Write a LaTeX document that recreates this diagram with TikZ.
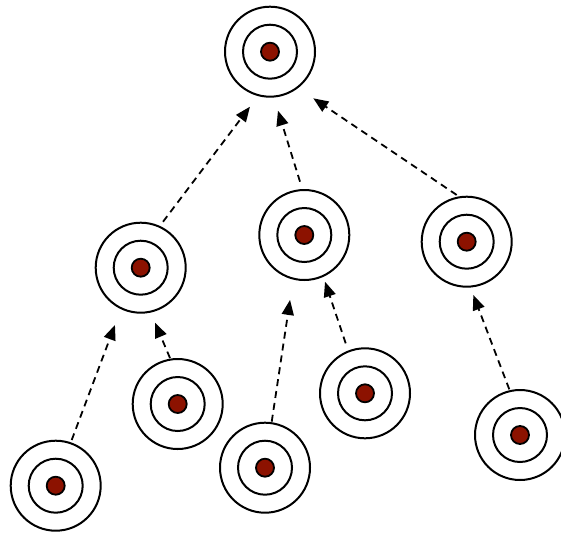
\documentclass[tikz,border=0pt]{standalone}
\usetikzlibrary{arrows.meta}
\definecolor{dotred}{RGB}{140,18,0}
\tikzset{
  target/.style={circle, draw, line width=2pt, minimum size=90pt, inner sep=0pt, outer sep=0pt,
    path picture={
      \draw[line width=2pt] (path picture bounding box.center) circle[radius=27pt];
      \filldraw[fill=dotred, line width=1.8pt] (path picture bounding box.center) circle[radius=9pt];
    }},
  link/.style={line width=1.8pt, dash pattern=on 7pt off 5pt, -{Triangle[length=15pt,width=12pt]}}
}
\begin{document}
\begin{tikzpicture}[x=1pt,y=-1pt]
\useasboundingbox (0,0) rectangle (561,533);
\node[target] (r) at (270,51.7) {};
\node[target] (a) at (140.7,267.7) {};
\node[target] (b) at (304.3,235) {};
\node[target] (c) at (466.7,241.7) {};
\node[target] (d) at (55.7,485.7) {};
\node[target] (e) at (177.7,404) {};
\node[target] (f) at (265,467.7) {};
\node[target] (g) at (365,393.3) {};
\node[target] (h) at (520,435) {};
\draw[link] ([shift={(64.1:51.1pt)}]a.center) -- ([shift={(250:58.5pt)}]r.center);
\draw[link] ([shift={(94.6:53.5pt)}]b.center) -- ([shift={(277.7:59.5pt)}]r.center);
\draw[link] ([shift={(102.1:47.8pt)}]c.center) -- ([shift={(312.9:63.6pt)}]r.center);
\draw[link] ([shift={(70.7:48.4pt)}]d.center) -- ([shift={(245.8:62.8pt)}]a.center);
\draw[link] ([shift={(99.5:46.6pt)}]e.center) -- ([shift={(284.6:56.8pt)}]a.center);
\draw[link] ([shift={(81.7:46.5pt)}]f.center) -- ([shift={(257.6:66.5pt)}]b.center);
\draw[link] ([shift={(111.1:53.6pt)}]g.center) -- ([shift={(293.9:51.1pt)}]b.center);
\draw[link] ([shift={(103.2:46.9pt)}]h.center) -- ([shift={(277.1:53.7pt)}]c.center);
\end{tikzpicture}
\end{document}
